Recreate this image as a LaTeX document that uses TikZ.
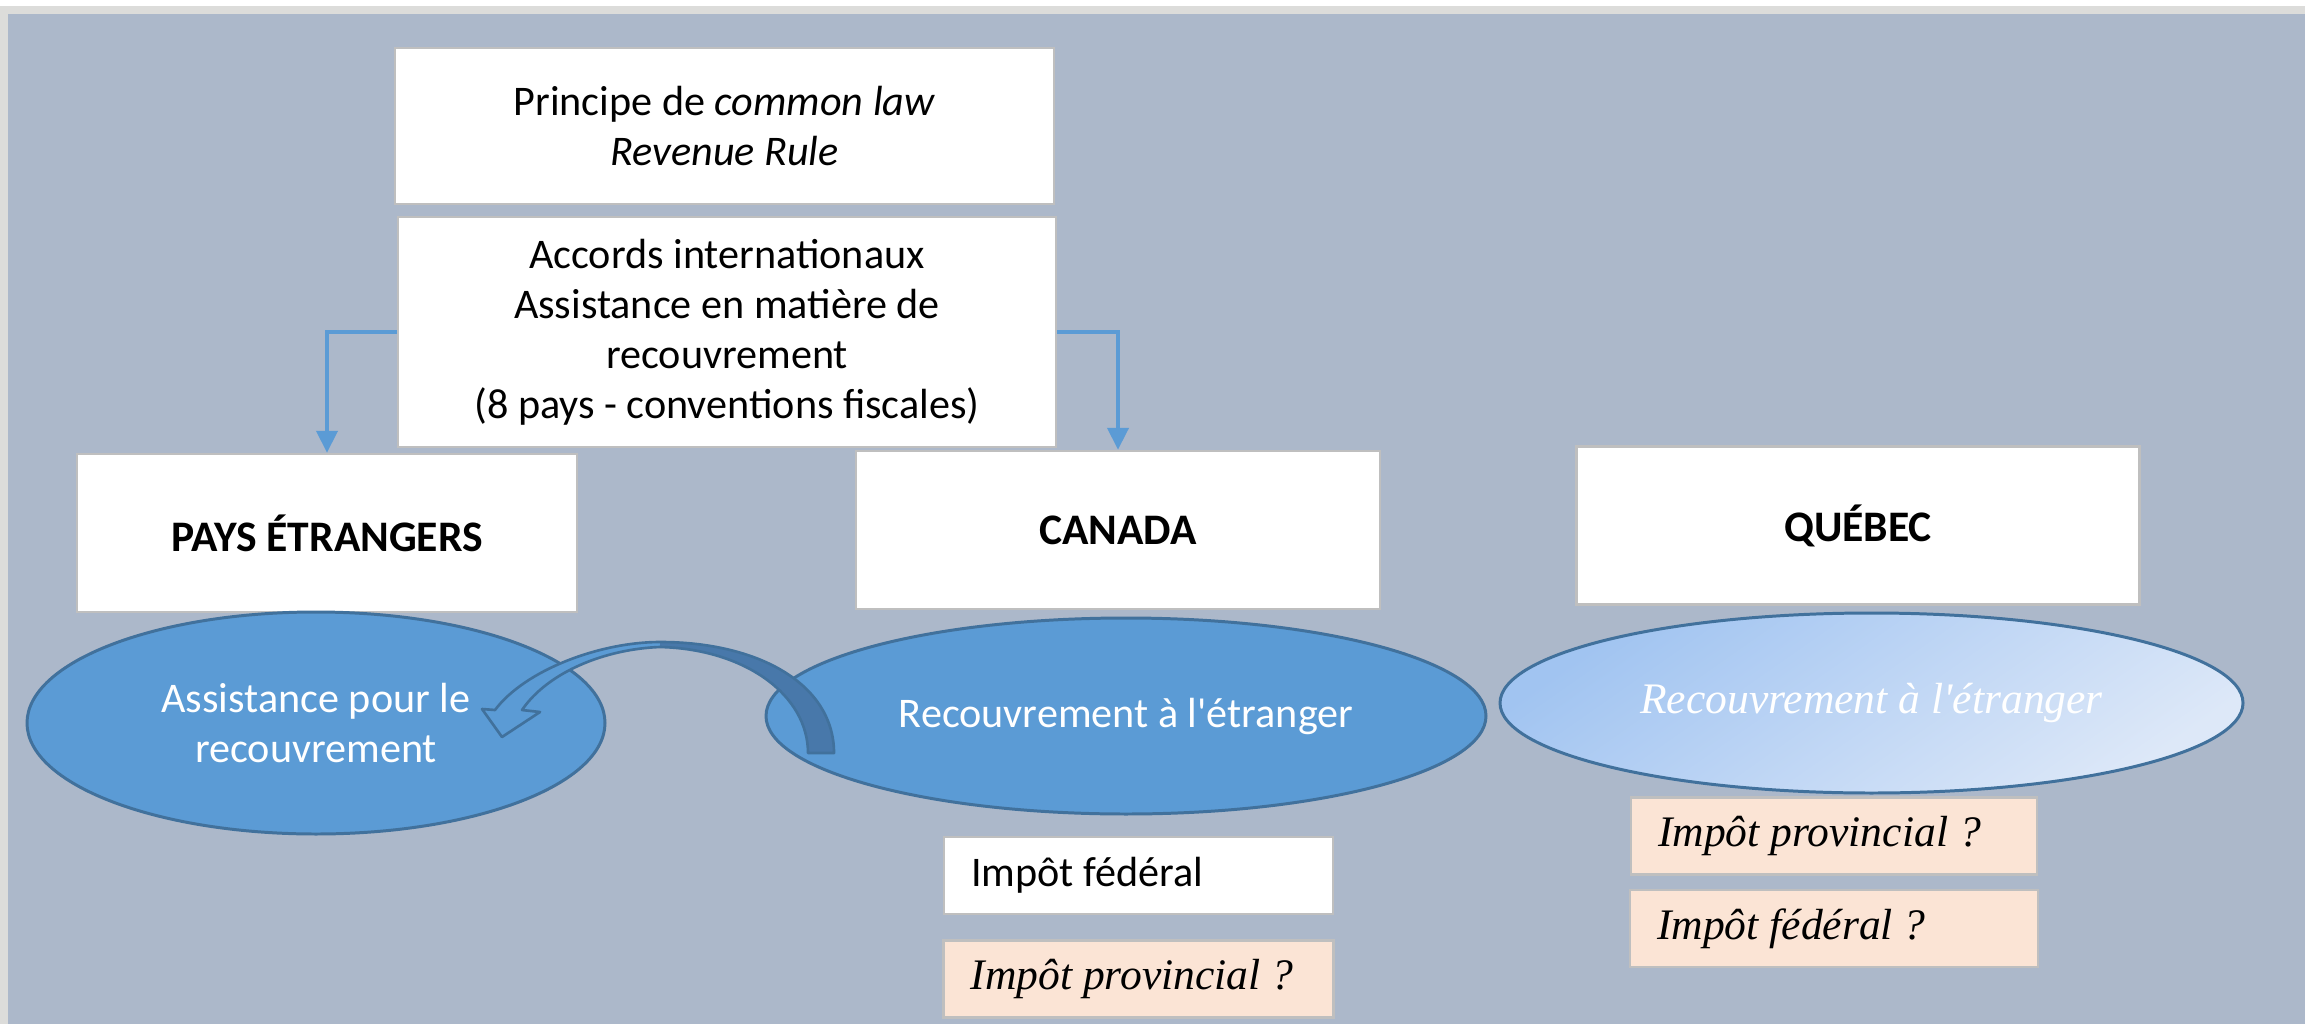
\documentclass[tikz,border=0pt]{standalone}
\usepackage{fontspec}
\setmainfont{Carlito}
\newfontfamily\cambria{Liberation Serif}
\usetikzlibrary{positioning}
\usetikzlibrary{shapes.geometric}
\usetikzlibrary{arrows.meta}
\definecolor{fond}{HTML}{ACB8CA}
\definecolor{cadre}{HTML}{DCDCDA}
\definecolor{bord}{HTML}{BFBFBF}
\definecolor{peche}{HTML}{FBE4D5}
\definecolor{bleu}{HTML}{5B9BD5}
\definecolor{bleufonce}{HTML}{41719C}
\definecolor{bleusombre}{HTML}{4878AA}
\definecolor{qchaut}{HTML}{A1C4F1}
\definecolor{qcbas}{HTML}{DDE8F8}
\newcommand\txtfont{\fontsize{12}{14.2}\selectfont}
\newcommand\serifit{\cambria\itshape\fontsize{12.4}{14.2}\selectfont}
\tikzset{boite/.style={rectangle,draw=bord,line width=0.7pt,fill=white,inner sep=0pt,align=center,font=\txtfont}}
\tikzset{titre/.style={boite,font=\fontsize{12.4}{14.2}\selectfont\bfseries,minimum height=15.8mm}}
\tikzset{bulle/.style={ellipse,draw=bleufonce,line width=0.85pt,fill=bleu,text=white,inner sep=0pt,align=center,font=\txtfont}}
\tikzset{petite/.style={rectangle,draw=bord,line width=0.7pt,inner xsep=2.7mm,inner ysep=0pt,minimum height=7.7mm,align=flush left,font=\txtfont}}
\tikzset{fl/.style={-{Triangle[width=2.1mm,length=2.2mm]},draw=bleu,line width=1.2pt}}

\begin{document}
\begin{tikzpicture}[x=0.1mm,y=-0.1mm]

\fill[white] (0,0) rectangle (2305,1024);
\fill[cadre] (0,6) rectangle (2305,1024);
\fill[fond] (8,14) rectangle (2305,1024);

\node[boite,minimum width=65.9mm,minimum height=15.6mm] (princ) at (724.5,126) {Principe de \textit{common law}\\\textit{Revenue Rule}};
\node[boite,minimum width=65.8mm,minimum height=23mm] (accords) at (727,332) {Accords internationaux\\Assistance en matière de\\recouvrement\\(8 pays - conventions fiscales)};

\node[titre,minimum width=50mm] (pays) at (327,533) {PAYS ÉTRANGERS};
\node[titre,minimum width=52.4mm] (canada) at (1118,530) {CANADA};
\node[titre,minimum width=56.3mm] (quebec) at (1858,525.5) {QUÉBEC};

\draw[fl] (accords.west) -| (pays.north);
\draw[fl] (accords.east) -| (canada.north);

\node[bulle,minimum width=57.8mm,minimum height=22.2mm] (assist) at (316,723) {Assistance pour le\\recouvrement};
\node[bulle,minimum width=72mm,minimum height=19.6mm] (recca) at (1126,716) {Recouvrement à l\textquotesingle étranger};
\node[bulle,top color=qchaut,bottom color=qcbas,shading angle=35,minimum width=74.3mm,minimum height=18mm,font=\serifit] (recqc) at (1871.5,703) {Recouvrement à l\textquotesingle étranger};

\node[petite,fill=white,text width=33.5mm] (fedca) at (1138.5,875.5) {Impôt fédéral};
\node[petite,fill=peche,text width=33.6mm,font=\serifit,below=2.4mm of fedca] (provca) {Impôt provincial ?};
\node[petite,fill=peche,text width=35.2mm,font=\serifit] (provqc) at (1834,836) {Impôt provincial ?};
\node[petite,fill=peche,text width=35.4mm,font=\serifit,below=1.3mm of provqc] (fedqc) {Impôt fédéral ?};

% fleche courbe
\fill[bleu] (660,642) .. controls (600,642) and (525,670) .. (495,710) -- (482,709) -- (502,737) -- (540,712) -- (522,710) .. controls (548,672) and (605,649) .. (660,647) -- cycle;
\fill[bleusombre] (660,642) .. controls (760,642) and (834,685) .. (834,753) -- (808,753) .. controls (808,695) and (745,649) .. (660,647) -- cycle;
\draw[bleufonce,line width=0.75pt,line join=round] (834,753) .. controls (834,685) and (760,642) .. (660,642) .. controls (600,642) and (525,670) .. (495,710) -- (482,709) -- (502,737) -- (540,712) -- (522,710) .. controls (548,672) and (605,649) .. (660,647) .. controls (745,649) and (808,695) .. (808,753) -- cycle;

\end{tikzpicture}
\end{document}
